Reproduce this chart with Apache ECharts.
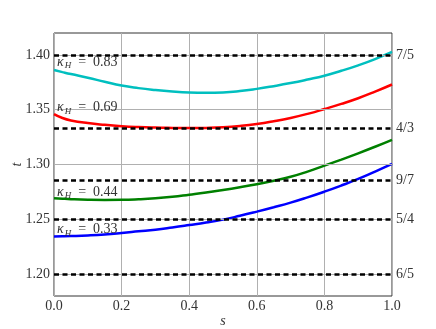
<!DOCTYPE html>
<html>
<head>
<meta charset="utf-8">
<script src="https://cdn.jsdelivr.net/npm/echarts@6/dist/echarts.min.js"></script>
<style>
html, body { margin: 0; padding: 0; background: #fff; }
#main { width: 436px; height: 329px; }
</style>
</head>
<body>
<div id="main"></div>
<script>
const sVals  = [0, 0.025, 0.05, 0.1, 0.15, 0.2, 0.25, 0.3, 0.35, 0.4, 0.45, 0.5,
                0.55, 0.6, 0.65, 0.7, 0.75, 0.8, 0.85, 0.9, 0.95, 1.0];
const cyanT  = [1.3862, 1.3843, 1.3825, 1.3792, 1.3755, 1.3720, 1.3697, 1.3680, 1.3667, 1.3658, 1.3655, 1.3658,
                1.3670, 1.3690, 1.3715, 1.3743, 1.3775, 1.3810, 1.3855, 1.3905, 1.3962, 1.4027];
const redT   = [1.3460, 1.3424, 1.3402, 1.3378, 1.3362, 1.3350, 1.3342, 1.3337, 1.3334, 1.3332, 1.3334, 1.3340,
                1.3352, 1.3370, 1.3395, 1.3425, 1.3462, 1.3506, 1.3553, 1.3605, 1.3665, 1.3730];
const greenT = [1.2693, 1.2688, 1.2684, 1.2679, 1.2677, 1.2678, 1.2683, 1.2692, 1.2706, 1.2725, 1.2745, 1.2768,
                1.2793, 1.2820, 1.2852, 1.2888, 1.2935, 1.2990, 1.3045, 1.3102, 1.3162, 1.3225];
const blueT  = [1.2344, 1.2345, 1.2347, 1.2353, 1.2362, 1.2375, 1.2390, 1.2405, 1.2425, 1.2447, 1.2470, 1.2497,
                1.2532, 1.2570, 1.2610, 1.2652, 1.2700, 1.2752, 1.2808, 1.2868, 1.2935, 1.3005];

const yTicks = [1.20, 1.25, 1.30, 1.35, 1.40];
const fracVals = [7 / 5, 4 / 3, 9 / 7, 5 / 4, 6 / 5];
const fracLabels = ['7/5', '4/3', '9/7', '5/4', '6/5'];
const kappaText = ['0.83', '0.69', '0.44', '0.33'];
const kappaY = [1.3936, 1.3518, 1.2750, 1.2404];

const font = 'Liberation Serif';
const txtColor = '#333';

const myChart = echarts.init(document.getElementById('main'));

function pairs(arr) {
    return sVals.map((s, i) => [s, arr[i]]);
}

// κ_H label next to the left end of a curve
function kappaMark(i) {
    return {
        silent: true,
        symbolSize: 0,
        data: [{
            coord: [0, kappaY[i]],
            label: {
                show: true,
                position: 'right',
                distance: 3,
                formatter: '{k|κ}{h|H}{t|  =  ' + kappaText[i] + '}',
                rich: {
                    k: { fontFamily: font, fontStyle: 'italic', fontSize: 14, color: txtColor },
                    h: { fontFamily: font, fontStyle: 'italic', fontSize: 9, color: txtColor, padding: [7, 0, 0, 1] },
                    t: { fontFamily: font, fontSize: 14, color: txtColor }
                }
            }
        }]
    };
}

const colors = ['#00bfbf', '#ff0000', '#008000', '#0000ff'];
const curves = [cyanT, redT, greenT, blueT];

const series = [
    // horizontal grid lines
    {
        type: 'line',
        data: [],
        z: 1,
        markLine: {
            silent: true,
            symbol: 'none',
            precision: 6,
            label: { show: false },
            lineStyle: { color: '#b0b0b0', width: 1, type: 'solid' },
            data: yTicks.map(v => ({ yAxis: v }))
        }
    }
];

curves.forEach((arr, i) => {
    series.push({
        type: 'line',
        data: pairs(arr),
        smooth: true,
        showSymbol: false,
        lineStyle: { color: colors[i], width: 2.5 },
        z: 3,
        markPoint: kappaMark(i)
    });
});

// dashed reference fractions
series.push({
    type: 'line',
    data: [],
    z: 4,
    markLine: {
        silent: true,
        symbol: 'none',
        precision: 6,
        lineStyle: { color: '#000', width: 2.5, type: [5, 3.5] },
        label: {
            show: true,
            position: 'end',
            distance: 4,
            fontFamily: font,
            fontSize: 14,
            color: txtColor,
            formatter: p => fracLabels[p.dataIndex]
        },
        data: fracVals.map(v => ({ yAxis: v }))
    }
});

myChart.setOption({
    animation: false,
    grid: {
        left: 54, right: 44, top: 33, bottom: 33,
        outerBoundsMode: 'none',
        show: true, borderColor: '#333', borderWidth: 1
    },
    xAxis: {
        type: 'value',
        min: 0, max: 1, interval: 0.2,
        name: 's',
        nameLocation: 'middle',
        nameGap: 18,
        nameMoveOverlap: false,
        nameTextStyle: { fontFamily: font, fontStyle: 'italic', fontSize: 14, color: txtColor },
        axisLine: { show: false },
        axisTick: { show: false },
        axisLabel: {
            fontFamily: font, fontSize: 14, color: txtColor, margin: 3,
            formatter: v => v.toFixed(1)
        },
        splitLine: { show: true, lineStyle: { color: '#b0b0b0', width: 1 } }
    },
    yAxis: {
        type: 'value',
        min: 1.18, max: 1.42,
        name: 't',
        nameLocation: 'middle',
        nameGap: 30,
        nameMoveOverlap: false,
        nameRotate: 90,
        nameTextStyle: { fontFamily: font, fontStyle: 'italic', fontSize: 14, color: txtColor },
        axisLine: { show: false },
        axisTick: { show: false },
        splitLine: { show: false },
        axisLabel: {
            customValues: yTicks,
            fontFamily: font, fontSize: 14, color: txtColor, margin: 4,
            formatter: v => v.toFixed(2)
        }
    },
    series: series
});
</script>
</body>
</html>
